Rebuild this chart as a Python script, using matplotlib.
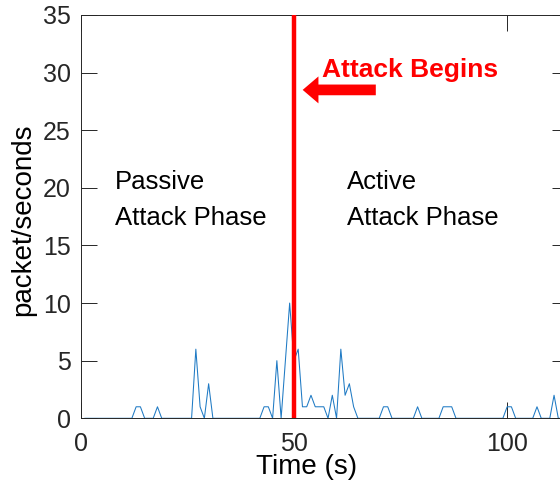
import matplotlib
matplotlib.use("Agg")
import matplotlib.pyplot as plt
from matplotlib.patches import FancyArrow

plt.rcParams['font.family'] = ['Liberation Sans', 'DejaVu Sans']

# ---- data (packets per second, 1 s bins) ----
time_s = list(range(1, 115))
packets = [
    0, 0, 0, 0, 0, 0, 0, 0, 0, 0,      # 1-10
    0, 0, 1, 1, 0, 0, 0, 1, 0, 0,      # 11-20
    0, 0, 0, 0, 0, 0, 6, 1, 0, 3,      # 21-30
    0, 0, 0, 0, 0, 0, 0, 0, 0, 0,      # 31-40
    0, 0, 1, 1, 0, 5, 0, 5, 10, 5,     # 41-50
    6, 1, 1, 2, 1, 1, 1, 0, 2, 0,      # 51-60
    6, 2, 3, 1, 0, 0, 0, 0, 0, 0,      # 61-70
    1, 1, 0, 0, 0, 0, 0, 0, 1, 0,      # 71-80
    0, 0, 0, 0, 1, 1, 1, 0, 0, 0,      # 81-90
    0, 0, 0, 0, 0, 0, 0, 0, 0, 1,      # 91-100
    1, 0, 0, 0, 0, 0, 1, 0, 0, 0,      # 101-110
    2, 0, 0, 0,                        # 111-114
]
attack_start = 50
x_ticks = [0, 50, 100]
y_ticks = [0, 5, 10, 15, 20, 25, 30, 35]
x_label = "Time (s)"
y_label = "packet/seconds"
attack_text = "Attack Begins"
passive_lines = ["Passive", "Attack Phase"]
active_lines = ["Active", "Attack Phase"]

W, H = 560, 486
fig = plt.figure(figsize=(W / 100, H / 100), dpi=100)
left_px, right_px, top_px, bottom_px = 80.7, 567.7, 15.0, 418.3
ax = fig.add_axes([left_px / W, (H - bottom_px) / H,
                   (right_px - left_px) / W, (bottom_px - top_px) / H])

dark = '#262626'
ax.plot(time_s, packets, color='#1f7ac4', lw=0.75, zorder=2)
ax.axvline(attack_start, color='#ff0000', lw=3.2, zorder=3)

ax.set_xlim(0, 114.2)
ax.set_ylim(0, 35)
ax.set_xticks(x_ticks)
ax.set_yticks(y_ticks)
ax.tick_params(direction='in', top=True, right=True, length=11.5, width=0.7,
               color=dark, labelcolor=dark, labelsize=18)
ax.tick_params(axis='x', pad=10)
ax.tick_params(axis='y', pad=7)
for s in ax.spines.values():
    s.set_color(dark)
    s.set_linewidth(0.7)

ax.set_xlabel(x_label, fontsize=20, color='black')
ax.xaxis.set_label_coords((306.7 - left_px) / (right_px - left_px),
                          (bottom_px - 454) / (bottom_px - top_px))
ax.set_ylabel(y_label, fontsize=20, color='black')
ax.yaxis.label.set_va('center')
ax.yaxis.set_label_coords((23 - left_px) / (right_px - left_px),
                          (bottom_px - 220) / (bottom_px - top_px))

# annotations
ax.text(8.0, 19.9, passive_lines[0], fontsize=18.5, va='baseline', ha='left')
ax.text(8.0, 16.8, passive_lines[1], fontsize=18.5, va='baseline', ha='left')
ax.text(62.4, 19.9, active_lines[0], fontsize=18.5, va='baseline', ha='left')
ax.text(62.4, 16.8, active_lines[1], fontsize=18.5, va='baseline', ha='left')
ax.text(56.5, 29.6, attack_text, fontsize=19, fontweight='bold',
        color='#ff0000', va='baseline', ha='left')
ax.add_patch(FancyArrow(69.2, 28.5, -17.15, 0, width=0.93, head_width=2.34,
                        head_length=3.7, length_includes_head=True,
                        color='#ff0000', lw=0, zorder=4))

fig.savefig('out.png', dpi=100)
